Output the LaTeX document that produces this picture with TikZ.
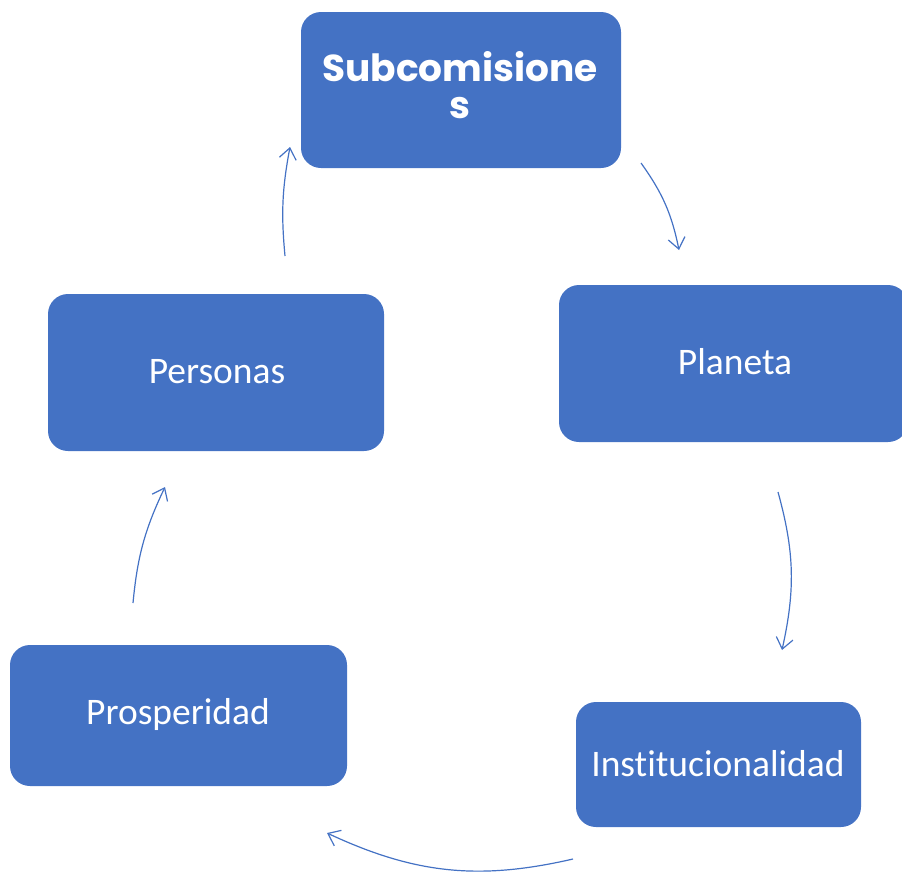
\documentclass[tikz,border=0pt]{standalone}
\usepackage{fontspec}
\setmainfont{Carlito}[Ligatures=NoCommon]
\newfontfamily\titlefont{Poppins}
\usetikzlibrary{arrows.meta}
\definecolor{boxblue}{HTML}{4472C4}
\tikzset{
  card/.style={fill=boxblue, draw=none, rounded corners=20pt},
  cardtext/.style={text=white, font=\fontsize{37.5}{42}\selectfont, inner sep=0pt},
  cyc/.style={draw=boxblue, line width=1.2pt, -{Straight Barb[length=11pt,width=17pt,line width=1.2pt]}}
}
\begin{document}
\begin{tikzpicture}[x=1pt,y=-1pt]
\useasboundingbox (0,0) rectangle (902,873);
% boxes
\path[card] (301,12) rectangle (621,168);
\path[card] (48,294) rectangle (384,451);
\path[card] (559,285) rectangle (908,442);
\path[card] (10,645) rectangle (347,786);
\path[card] (576,702) rectangle (861,827);
% texts
\node[text=white, inner sep=0pt, align=center, font=\titlefont\bfseries\fontsize{37.5}{37}\selectfont] (sub) at (460,85) {Subcomisione\\s};
\node[cardtext] (per) at (217,372) {Personas};
\node[cardtext] (pla) at (735,362) {Planeta};
\node[cardtext] (pro) at (178,714) {Prosperidad};
\node[cardtext] (ins) at (718,764) {Institucionalidad};
% connector ends
\coordinate (a1) at (641,163); \coordinate (b1) at (679,250);
\coordinate (a2) at (778,492); \coordinate (b2) at (782,650);
\coordinate (a3) at (573,859); \coordinate (b3) at (327,833);
\coordinate (a4) at (133,603); \coordinate (b4) at (165,487);
\coordinate (a5) at (285,256); \coordinate (b5) at (290,147);
\draw[cyc] (a1) to[bend left=12] (b1);
\draw[cyc] (a2) to[bend left=14] (b2);
\draw[cyc] (a3) to[bend left=19] (b3);
\draw[cyc] (a4) to[bend left=10] (b4);
\draw[cyc] (a5) to[bend left=8] (b5);
\end{tikzpicture}
\end{document}
